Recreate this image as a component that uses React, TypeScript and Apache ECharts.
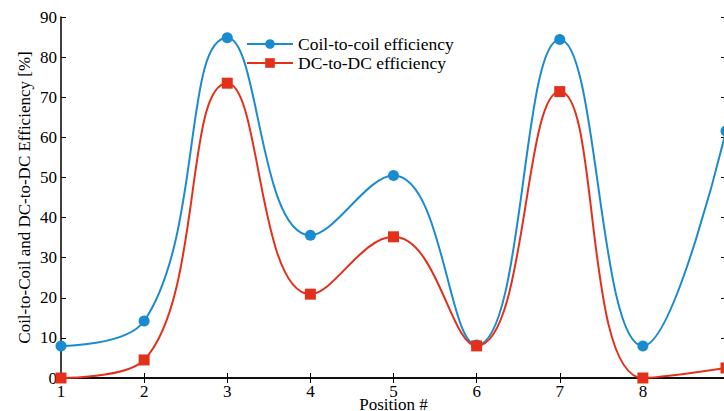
import React, { useEffect, useRef } from "react";
import * as echarts from "echarts";

const positions = [1, 2, 3, 4, 5, 6, 7, 8, 9];
const coilToCoil = [8, 14.2, 84.8, 35.6, 50.5, 8.2, 84.4, 8, 61.6];
const dcToDc = [0, 4.5, 73.5, 20.9, 35.2, 8, 71.4, 0, 2.5];
const seriesNames = ["Coil-to-coil efficiency", "DC-to-DC efficiency"];
const colors = ["#1b8bd0", "#e2301a"];

const FONT = "Liberation Serif";

export default function App() {
  const ref = useRef<HTMLDivElement>(null);
  useEffect(() => {
    document.body.style.margin = "0";
    const chart = echarts.init(ref.current!, null, { renderer: "svg" });
    const axisLine = { show: true, lineStyle: { color: "#000", width: 1.5 } };
    const tick = { inside: true, length: 5, lineStyle: { color: "#000", width: 1 } };
    chart.setOption({
      animation: false,
      backgroundColor: "#fff",
      textStyle: { fontFamily: FONT },
      grid: {
        left: 61,
        right: -2,
        top: 17,
        bottom: 33,
        containLabel: false,
        outerBoundsMode: "none",
      },
      legend: {
        orient: "vertical",
        left: 241,
        top: 30,
        itemWidth: 46,
        itemHeight: 12,
        itemGap: 1,
        data: seriesNames,
        textStyle: { fontFamily: FONT, fontSize: 17.5, color: "#000" },
      },
      xAxis: [
        {
          type: "value",
          min: 1,
          max: 9,
          interval: 1,
          name: "Position #",
          nameLocation: "middle",
          nameGap: 33,
          nameMoveOverlap: false,
          nameTextStyle: {
            fontFamily: FONT,
            fontSize: 17,
            lineHeight: 13,
            color: "#000",
            verticalAlign: "bottom",
          },
          axisLine,
          axisTick: tick,
          axisLabel: {
            fontFamily: FONT,
            fontSize: 17,
            lineHeight: 13,
            color: "#000",
            margin: 7,
            showMaxLabel: false,
          },
          splitLine: { show: false },
        },
        {
          type: "value",
          position: "top",
          min: 1,
          max: 9,
          interval: 1,
          axisLine,
          axisTick: tick,
          axisLabel: { show: false },
          splitLine: { show: false },
        },
      ],
      yAxis: [
        {
          type: "value",
          min: 0,
          max: 90,
          interval: 10,
          name: "Coil-to-Coil and DC-to-DC Efficiency [%]",
          nameLocation: "middle",
          nameGap: 28,
          nameMoveOverlap: false,
          nameTextStyle: { fontFamily: FONT, fontSize: 17, color: "#000" },
          axisLine,
          axisTick: tick,
          axisLabel: { fontFamily: FONT, fontSize: 17, color: "#000", margin: 4 },
          splitLine: { show: false },
        },
        {
          type: "value",
          position: "right",
          min: 0,
          max: 90,
          interval: 10,
          axisLine,
          axisTick: tick,
          axisLabel: { show: false },
          splitLine: { show: false },
        },
      ],
      series: [
        {
          name: seriesNames[0],
          type: "line",
          smooth: 0.45,
          symbol: "circle",
          symbolSize: 11,
          color: colors[0],
          lineStyle: { width: 2, color: colors[0] },
          data: positions.map((p, i) => [p, coilToCoil[i]]),
        },
        {
          name: seriesNames[1],
          type: "line",
          smooth: 0.45,
          symbol: "rect",
          symbolSize: 11,
          color: colors[1],
          lineStyle: { width: 2, color: colors[1] },
          data: positions.map((p, i) => [p, dcToDc[i]]),
        },
      ],
    });
    return () => chart.dispose();
  }, []);
  return <div ref={ref} style={{ width: 724, height: 411 }} />;
}
